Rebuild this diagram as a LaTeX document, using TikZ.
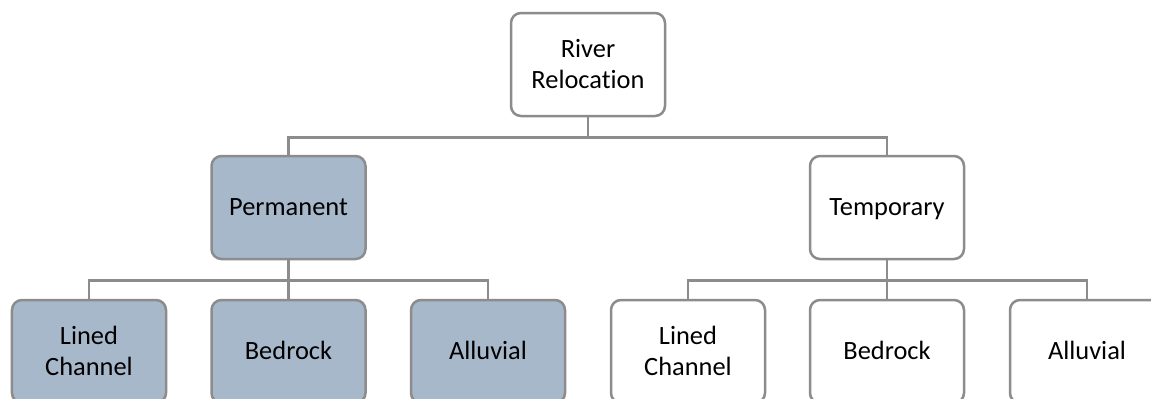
\documentclass[tikz,border=0pt]{standalone}
\usepackage{fontspec}
\setmainfont{Carlito}[Ligatures={NoCommon}]
\definecolor{edge}{HTML}{8C8C8C}
\definecolor{permfill}{HTML}{A8B8CB}
\newcommand{\ts}[1]{\rule[-7bp]{0pt}{30bp}#1}
\begin{document}
\begin{tikzpicture}[x=1bp,y=-1bp,
  box/.style={draw=edge,line width=2.5bp,rounded corners=10bp,fill=white,
    minimum width=154bp,minimum height=103bp,align=center,inner sep=0pt,
    font=\fontsize{26.5}{30}\selectfont},
  perm/.style={box,fill=permfill},
  conn/.style={draw=edge,line width=2.5bp}]
\clip (0,0) rectangle (1151,398);
\fill[white] (0,0) rectangle (1151,398);
\node[box]  (root) at (588,64.5) {\ts{River}\\\ts{Relocation}};
\node[perm] (pm)   at (288.5,207.5) {\ts{Permanent}};
\node[box]  (tm)   at (887,207.5) {\ts{Temporary}};
\node[perm] (pl)   at (89,351.5) {\ts{Lined}\\\ts{Channel}};
\node[perm] (pb)   at (288.5,351.5) {\ts{Bedrock}};
\node[perm] (pa)   at (488,351.5) {\ts{Alluvial}};
\node[box]  (tl)   at (688,351.5) {\ts{Lined}\\\ts{Channel}};
\node[box]  (tb)   at (887,351.5) {\ts{Bedrock}};
\node[box]  (ta)   at (1087,351.5) {\ts{Alluvial}};
\coordinate (rbus) at ([yshift=-20bp]root.south);
\coordinate (pbus) at ([yshift=-20bp]pm.south);
\coordinate (tbus) at ([yshift=-20bp]tm.south);
\draw[conn] (root.south) -- (rbus);
\draw[conn] (rbus) -| (pm.north);
\draw[conn] (rbus) -| (tm.north);
\draw[conn] (pm.south) -- (pb.north);
\draw[conn] (pbus) -| (pl.north);
\draw[conn] (pbus) -| (pa.north);
\draw[conn] (tm.south) -- (tb.north);
\draw[conn] (tbus) -| (tl.north);
\draw[conn] (tbus) -| (ta.north);
\end{tikzpicture}
\end{document}
